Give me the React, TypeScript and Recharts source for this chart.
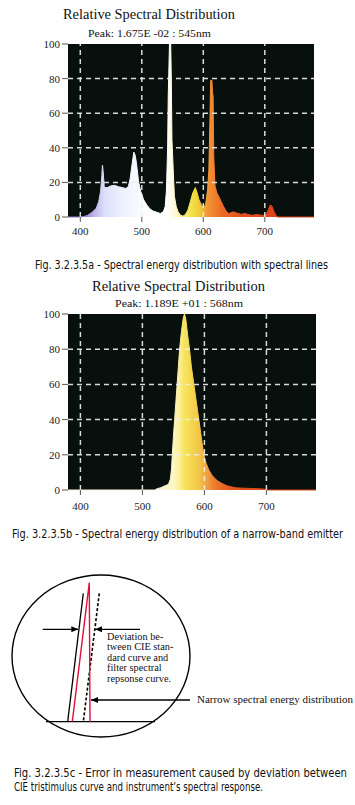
import React from "react";
import {
  AreaChart,
  Area,
  XAxis,
  YAxis,
  CartesianGrid,
  ReferenceLine,
  LineChart,
  Line,
  ReferenceArea,
} from "recharts";

// ---------- Data: Fig. 3.2.3.5a (spectral lines) ----------
const wavelengths1 = [
  380, 400, 406, 412, 420, 426, 430, 433, 435, 436, 437, 439, 444, 450, 456, 462, 468, 474, 478,
  481, 484, 487, 489, 491, 493, 495, 498, 503, 508, 513, 518, 524, 530, 535, 538, 540, 542, 543,
  544, 545, 547, 548, 549, 551, 553, 556, 559, 563, 567, 571, 575, 579, 583, 587, 590, 593, 597,
  601, 604, 607, 609, 611, 612, 614, 615, 616, 617, 619, 622, 625, 629, 633, 637, 641, 645, 649,
  654, 658, 662, 666, 670, 676, 681, 686, 690, 695, 700, 703, 706, 709, 712, 715, 718, 721, 780,
];
const intensity1 = [
  0, 0, 0.3, 1, 3, 5, 9, 15, 24, 30, 27, 17, 17, 18, 18.3, 17.5, 17, 16.5, 17.5,
  22, 30, 37.5, 36, 32, 26, 20, 15, 10, 7, 4.8, 3.5, 2.8, 2, 3, 6, 15, 40, 70,
  85, 100, 100, 80, 45, 28, 12, 6, 3, 1, 0.5, 1.5, 4, 9, 14, 17, 14, 10, 7,
  5, 8, 16, 27, 60, 79, 79, 72, 70, 35, 18, 14, 12, 9, 6, 3.5, 2, 2.5, 3,
  2.3, 2, 1.5, 2, 1.8, 1.2, 1, 1.5, 1.3, 1, 1, 2, 4.5, 7, 6, 3, 1, 0, 0,
];

// ---------- Data: Fig. 3.2.3.5b (narrow-band emitter) ----------
const wavelengths2 = [
  380, 520, 524, 530, 537, 542, 545, 547, 548, 550, 552, 554, 556, 558, 560, 563, 566, 568, 570,
  573, 576, 579, 583, 587, 591, 595, 599, 603, 607, 612, 617, 622, 628, 635, 643, 652, 665, 680,
  695, 700, 702, 780,
];
const intensity2 = [
  0, 0, 0.8, 1.3, 2.5, 3.2, 6, 12, 19, 30, 40, 50, 60, 70, 80, 90, 98, 100, 97,
  88, 80, 70, 60, 50, 40, 30, 20, 15, 11.5, 8.5, 6.5, 5, 3.8, 2.6, 1.8, 1.2, 1, 0.8,
  0.6, 0.3, 0, 0,
];

const xTicks = [400, 500, 600, 700];
const yTicks = [0, 20, 40, 60, 80, 100];
const gridX = [400, 500, 600, 700];
const gridY = [20, 40, 60, 80];

// ---------- Data: Fig. 3.2.3.5c (diagram, abstract units) ----------
const circleX = [0, 178];
const circleY = [0, 162];
const cieCurve = [
  { x: 71.3, y: 143.7 },
  { x: 55.7, y: 15.3 },
];
const narrowSpectrum = [
  { x: 60.3, y: 15.3 },
  { x: 77.3, y: 154.3 },
  { x: 78, y: 15.3 },
];
const filterCurve = [
  { x: 87.3, y: 143.7 },
  { x: 71.3, y: 15.3 },
];
const baseLine = [
  { x: 34, y: 15.3 },
  { x: 143, y: 15.3 },
];
const arrowA = [
  { x: 30.7, y: 107.7 },
  { x: 66.3, y: 107.7 },
];
const arrowB = [
  { x: 83, y: 107.7 },
  { x: 128, y: 107.7 },
];
const arrowC = [
  { x: 79, y: 37 },
  { x: 178, y: 37 },
];

const colors1: [number, string][] = [
  [380, "#8c70c4"],
  [410, "#9c88d4"],
  [425, "#c4bcec"],
  [440, "#dde0fa"],
  [470, "#eef2ff"],
  [500, "#fbfbff"],
  [540, "#ffffff"],
  [556, "#fff8d0"],
  [570, "#f8ec70"],
  [585, "#f0dc40"],
  [598, "#f0c038"],
  [606, "#f09838"],
  [614, "#f08830"],
  [630, "#ec6c24"],
  [660, "#e4501c"],
  [700, "#e04418"],
  [780, "#dc4418"],
];
const colors2: [number, string][] = [
  [380, "#f6f4d8"],
  [530, "#f8f4d4"],
  [550, "#fdf6c4"],
  [560, "#fbee98"],
  [567, "#f8e460"],
  [578, "#f4d850"],
  [592, "#f2c448"],
  [604, "#f0a040"],
  [616, "#ec7c30"],
  [640, "#e45a20"],
  [700, "#dc4418"],
  [780, "#dc4418"],
];

const data1 = wavelengths1.map((nm, i) => ({ nm, v: intensity1[i] }));
const data2 = wavelengths2.map((nm, i) => ({ nm, v: intensity2[i] }));

const serif = "'Liberation Serif', 'Times New Roman', serif";
const narrow = "'Liberation Sans Narrow', 'DejaVu Sans Condensed', 'Roboto', sans-serif";

function Spectrum(props: {
  data: { nm: number; v: number }[];
  stops: [number, string][];
  id: string;
  top: number;
  right: number;
  bottom: number;
  tickMargin: number;
}) {
  const { data, stops, id, top, right, bottom, tickMargin } = props;
  return (
    <div style={{ position: "absolute", left: 0, top, width: 355, height: 250 }}>
      <AreaChart width={355} height={250} data={data} margin={{ top: 44, right, bottom, left: 0 }}>
        <defs>
          <linearGradient id={id} x1="0" y1="0" x2="1" y2="0">
            {stops.map(([w, c]) => (
              <stop key={w} offset={(w - 380) / 400} stopColor={c} />
            ))}
          </linearGradient>
        </defs>
        <CartesianGrid fill="#08100e" stroke="none" horizontal={false} vertical={false} />
        <XAxis
          dataKey="nm"
          type="number"
          domain={[380, 780]}
          ticks={xTicks}
          interval={0}
          height={30}
          tickSize={5}
          tickMargin={tickMargin}
          axisLine={false}
          tickLine={{ stroke: "#555" }}
          tick={{ fontFamily: serif, fontSize: 11, fill: "#222" }}
        />
        <YAxis
          type="number"
          domain={[0, 100]}
          ticks={yTicks}
          interval={0}
          width={68}
          tickSize={6}
          tickMargin={2}
          axisLine={false}
          tickLine={{ stroke: "#555" }}
          tick={{ fontFamily: serif, fontSize: 11, fill: "#222" }}
        />
        <Area
          type="linear"
          dataKey="v"
          fill={`url(#${id})`}
          fillOpacity={1}
          stroke={`url(#${id})`}
          strokeWidth={1}
          dot={false}
          activeDot={false}
          isAnimationActive={false}
        />
        {gridX.map((x) => (
          <ReferenceLine
            key={"gx" + x}
            x={x}
            stroke="#f0f0f0"
            strokeOpacity={0.9}
            strokeWidth={1.5}
            strokeDasharray="5 4"
          />
        ))}
        {gridY.map((y) => (
          <ReferenceLine
            key={"gy" + y}
            y={y}
            stroke="#f0f0f0"
            strokeOpacity={0.9}
            strokeWidth={1.5}
            strokeDasharray="5 4"
          />
        ))}
      </AreaChart>
    </div>
  );
}

function arrowDot(tipIndex: number, dir: number) {
  return (p: any) => {
    if (p.index !== tipIndex) return <g key={"d" + p.index} />;
    const { cx, cy } = p;
    const b = cx - dir * 7;
    return (
      <polygon
        key={"d" + p.index}
        points={`${cx},${cy} ${b},${cy - 3} ${b},${cy + 3}`}
        fill="#000"
        stroke="none"
      />
    );
  };
}

function Diagram() {
  return (
    <div style={{ position: "absolute", left: 0, top: 560, width: 355, height: 190 }}>
      <LineChart width={355} height={190} margin={{ top: 15, right: 165, bottom: 13, left: 12 }}>
        <XAxis dataKey="x" type="number" domain={circleX} hide allowDataOverflow />
        <YAxis type="number" domain={circleY} hide allowDataOverflow />
        <ReferenceArea
          x1={circleX[0]}
          x2={circleX[1]}
          y1={circleY[0]}
          y2={circleY[1]}
          ifOverflow="visible"
          shape={(p: any) => (
            <ellipse
              cx={p.x + p.width / 2}
              cy={p.y + p.height / 2}
              rx={p.width / 2}
              ry={p.height / 2}
              fill="none"
              stroke="#000"
              strokeWidth={1.4}
            />
          )}
        />
        <Line data={baseLine} dataKey="y" type="linear" stroke="#000" strokeWidth={1.3} dot={false} activeDot={false} isAnimationActive={false} />
        <Line data={cieCurve} dataKey="y" type="linear" stroke="#000" strokeWidth={1.3} dot={false} activeDot={false} isAnimationActive={false} />
        <Line data={filterCurve} dataKey="y" type="linear" stroke="#000" strokeWidth={1.6} strokeDasharray="3 2" dot={false} activeDot={false} isAnimationActive={false} />
        <Line data={narrowSpectrum} dataKey="y" type="linear" stroke="#e0103c" strokeWidth={1.4} dot={false} activeDot={false} isAnimationActive={false} />
        <Line data={arrowA} dataKey="y" type="linear" stroke="#000" strokeWidth={1.3} dot={arrowDot(1, 1)} activeDot={false} isAnimationActive={false} />
        <Line data={arrowB} dataKey="y" type="linear" stroke="#000" strokeWidth={1.3} dot={arrowDot(0, -1)} activeDot={false} isAnimationActive={false} />
        <Line data={arrowC} dataKey="y" type="linear" stroke="#000" strokeWidth={1.3} dot={arrowDot(0, -1)} activeDot={false} isAnimationActive={false} />
      </LineChart>
    </div>
  );
}

function Caption(props: { x: number; y: number; w: number; size: number; children: string }) {
  const sx = 0.75;
  return (
    <text
      transform={`translate(${props.x},${props.y}) scale(${sx},1)`}
      x={0}
      y={0}
      fontFamily={narrow}
      fontSize={props.size}
      fill="#111"
      textLength={props.w / sx}
      lengthAdjust="spacingAndGlyphs"
    >
      {props.children}
    </text>
  );
}

export default function App() {
  const deviationLines = [
    "Deviation be-",
    "tween CIE stan-",
    "dard curve and",
    "filter spectral",
    "repsonse curve.",
  ];
  return (
    <div style={{ position: "absolute", left: 0, top: 0, width: 355, height: 805, background: "#fff" }}>
      <Spectrum data={data1} stops={colors1} id="spec1" top={0} right={41} bottom={3} tickMargin={5} />
      <Spectrum data={data2} stops={colors2} id="spec2" top={270} right={39} bottom={0} tickMargin={7} />
      <Diagram />
      <svg width={355} height={805} style={{ position: "absolute", left: 0, top: 0, pointerEvents: "none" }}>
        <text x={63} y={19} fontFamily={serif} fontSize={15} fill="#111" textLength={172} lengthAdjust="spacingAndGlyphs">
          Relative Spectral Distribution
        </text>
        <text x={88} y={36.5} fontFamily={serif} fontSize={11} fill="#111" textLength={123} lengthAdjust="spacingAndGlyphs">
          Peak: 1.675E -02 : 545nm
        </text>
        <Caption x={35} y={268.5} w={293} size={11.5}>
          Fig. 3.2.3.5a - Spectral energy distribution with spectral lines
        </Caption>
        <text x={92} y={290.5} fontFamily={serif} fontSize={15} fill="#111" textLength={173} lengthAdjust="spacingAndGlyphs">
          Relative Spectral Distribution
        </text>
        <text x={115} y={307} fontFamily={serif} fontSize={11} fill="#111" textLength={128} lengthAdjust="spacingAndGlyphs">
          Peak: 1.189E +01 : 568nm
        </text>
        <Caption x={12} y={537.5} w={331} size={11.5}>
          Fig. 3.2.3.5b - Spectral energy distribution of a narrow-band emitter
        </Caption>
        {deviationLines.map((t, i) => (
          <text key={t} x={107} y={640 + i * 10.4} fontFamily={serif} fontSize={10.3} fill="#111">
            {t}
          </text>
        ))}
        <text x={197} y={703} fontFamily={serif} fontSize={10} fill="#111" textLength={156} lengthAdjust="spacingAndGlyphs">
          Narrow spectral energy distribution
        </text>
        <Caption x={14} y={776.5} w={333} size={12}>
          Fig. 3.2.3.5c - Error in measurement caused by deviation between
        </Caption>
        <Caption x={14} y={790.5} w={249} size={12}>
          CIE tristimulus curve and instrument’s spectral response.
        </Caption>
      </svg>
    </div>
  );
}
